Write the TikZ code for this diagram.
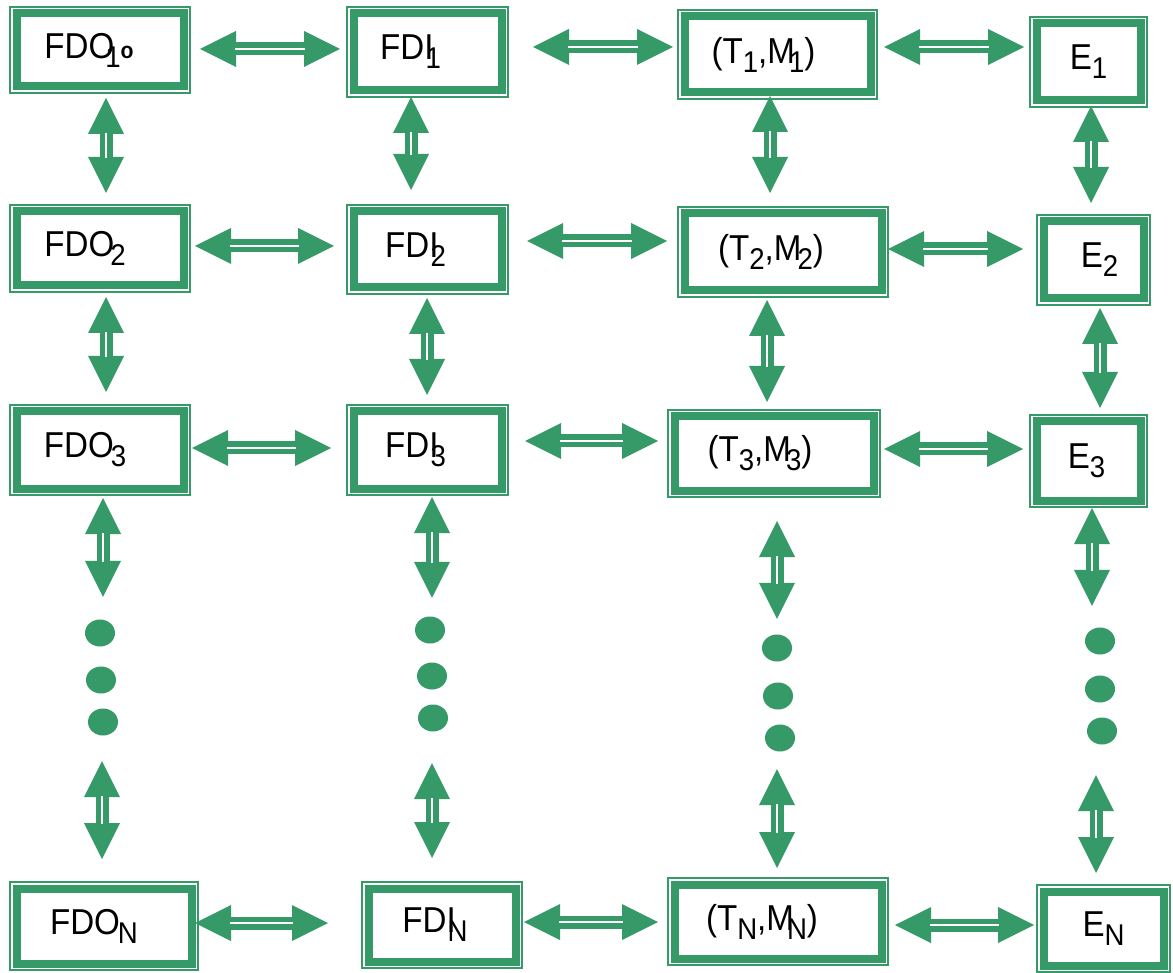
\documentclass[tikz,border=0pt]{standalone}
\usepackage{fontspec}
\newfontfamily\lab{Liberation Sans}[FakeStretch=0.92]
\usetikzlibrary{arrows.meta,calc,shapes.geometric}
\definecolor{gr}{RGB}{53,154,104}
\newcommand\subx[1]{\raisebox{-9pt}{\fontsize{30}{30}\selectfont #1}}
\newcommand\lbl[2]{\makebox[0pt]{#2\hspace*{#1}}}
\begin{document}
\begin{tikzpicture}[x=1pt,y=-1pt,
  box/.style={rectangle, draw=gr, line width=1.5pt, inner sep=0pt, outer sep=0pt,
    text=black, font=\lab\fontsize{36}{36}\selectfont,
    path picture={\draw[gr,line width=8pt]
      ([shift={(6.5pt,6.5pt)}]path picture bounding box.south west) rectangle
      ([shift={(-6.5pt,-6.5pt)}]path picture bounding box.north east);}},
  dot/.style={ellipse, fill=gr, minimum width=30pt, minimum height=27pt, inner sep=0pt},
  arr/.style={draw=gr, line width=13pt,
    {Triangle[length=36pt,width=36pt,line width=0pt]}-{Triangle[length=36pt,width=36pt,line width=0pt]},
    postaction={draw=white, line width=2pt, -, shorten <=35pt, shorten >=35pt}},
]
\useasboundingbox (0,0) rectangle (1173,973);
\fill[white] (0,0) rectangle (1173,973);

% row 1
\node[box, minimum width=180pt, minimum height=86pt] (fdo1) at (100,50)
  {\lbl{22pt}{FDO\kern-9pt\subx{1}{\bfseries\fontsize{23}{23}\selectfont o}}};
\node[box, minimum width=161pt, minimum height=90pt] (fdi1) at (427.5,52)
  {\lbl{34pt}{FDI\kern-8pt\subx{1}}};
\node[box, minimum width=199pt, minimum height=89pt] (tm1) at (777.5,54.5)
  {\lbl{28pt}{(T\subx{1},M\kern-6pt\subx{1})}};
\node[box, minimum width=117pt, minimum height=90pt] (e1) at (1088.5,62)
  {\lbl{0pt}{E\subx{1}}};
% row 2
\node[box, minimum width=180pt, minimum height=87pt] (fdo2) at (100,248.5)
  {\lbl{30pt}{FDO\kern-4pt\subx{2}}};
\node[box, minimum width=161pt, minimum height=89pt] (fdi2) at (427.5,249.5)
  {\lbl{24pt}{FDI\kern-8pt\subx{2}}};
\node[box, minimum width=210pt, minimum height=90pt] (tm2) at (783,252)
  {\lbl{24pt}{(T\subx{2},M\kern-4pt\subx{2})}};
\node[box, minimum width=113pt, minimum height=90pt] (e2) at (1093.5,260)
  {\lbl{-12pt}{E\subx{2}}};
% row 3
\node[box, minimum width=180pt, minimum height=90pt] (fdo3) at (100,450)
  {\lbl{30pt}{FDO\kern-3pt\subx{3}}};
\node[box, minimum width=161pt, minimum height=90pt] (fdi3) at (427.5,450)
  {\lbl{24pt}{FDI\kern-8pt\subx{3}}};
\node[box, minimum width=212pt, minimum height=87pt] (tm3) at (774,453.5)
  {\lbl{28pt}{(T\subx{3},M\kern-5pt\subx{3})}};
\node[box, minimum width=117pt, minimum height=92pt] (e3) at (1088.5,461)
  {\lbl{4pt}{E\subx{3}}};
% row N
\node[box, minimum width=188pt, minimum height=88pt] (fdoN) at (104,926)
  {\lbl{20pt}{FDO\kern-2pt\subx{N}}};
\node[box, minimum width=160pt, minimum height=86pt] (fdiN) at (442,925)
  {\lbl{14pt}{FDI\kern-8pt\subx{N}}};
\node[box, minimum width=220pt, minimum height=87pt] (tmN) at (778,921.5)
  {\lbl{32pt}{(T\subx{N},M\kern-7pt\subx{N})}};
\node[box, minimum width=133pt, minimum height=87pt] (eN) at (1103.5,928.5)
  {\lbl{0pt}{E\subx{N}}};

% dots
\node[dot] (d11) at (100,633) {};
\node[dot] (d12) at (101,680) {};
\node[dot] (d13) at (103,722) {};
\node[dot] (d21) at (430,630) {};
\node[dot] (d22) at (432,676) {};
\node[dot] (d23) at (433,718) {};
\node[dot] (d31) at (777,648) {};
\node[dot] (d32) at (778,696) {};
\node[dot] (d33) at (780,738) {};
\node[dot] (d41) at (1100,641) {};
\node[dot] (d42) at (1100,689) {};
\node[dot] (d43) at (1102,731) {};

% horizontal arrows
\draw[arr] ($(fdo1.east |- 0,49)+(10,0)$) -- ($(fdi1.west |- 0,49)-(7,0)$);
\draw[arr] ($(fdi1.east |- 0,47)+(25,0)$) -- ($(tm1.west |- 0,47)-(5,0)$);
\draw[arr] ($(tm1.east |- 0,47)+(7,0)$) -- ($(e1.west |- 0,47)-(6,0)$);
\draw[arr] ($(fdo2.east |- 0,246)+(5,0)$) -- ($(fdi2.west |- 0,246)-(13,0)$);
\draw[arr] ($(fdi2.east |- 0,241)+(19,0)$) -- ($(tm2.west |- 0,241)-(11,0)$);
\draw[arr] ($(tm2.east |- 0,249)+(0,0)$) -- ($(e2.west |- 0,249)-(14,0)$);
\draw[arr] ($(fdo3.east |- 0,448)+(2,0)$) -- ($(fdi3.west |- 0,448)-(16,0)$);
\draw[arr] ($(fdi3.east |- 0,441)+(17,0)$) -- ($(tm3.west |- 0,441)-(10,0)$);
\draw[arr] ($(tm3.east |- 0,449)+(4,0)$) -- ($(e3.west |- 0,449)-(7,0)$);
\draw[arr] ($(fdoN.east |- 0,923)+(-3,0)$) -- ($(fdiN.west |- 0,923)-(34,0)$);
\draw[arr] ($(fdiN.east |- 0,922)+(2,0)$) -- ($(tmN.west |- 0,922)-(10,0)$);
\draw[arr] ($(tmN.east |- 0,925)+(7,0)$) -- ($(eN.west |- 0,925)-(3,0)$);

% vertical arrows
\draw[arr] ($(fdo1.south -| 106,0)+(0,5)$) -- ($(fdo2.north -| 106,0)-(0,12)$);
\draw[arr] ($(fdo2.south -| 106,0)+(0,5)$) -- ($(fdo3.north -| 106,0)-(0,13)$);
\draw[arr] ($(fdo3.south -| 103,0)+(0,3)$) -- ($(d11.north -| 103,0)-(0,22.5)$);
\draw[arr] ($(d13.south -| 102,0)+(0,25.5)$) -- ($(fdoN.north -| 102,0)-(0,23)$);

\draw[arr] ($(fdi1.south -| 411,0)+(0,0)$) -- ($(fdi2.north -| 411,0)-(0,15)$);
\draw[arr] ($(fdi2.south -| 427,0)+(0,4)$) -- ($(fdi3.north -| 427,0)-(0,10)$);
\draw[arr] ($(fdi3.south -| 432,0)+(0,2)$) -- ($(d21.north -| 432,0)-(0,18.5)$);
\draw[arr] ($(d23.south -| 432,0)+(0,31.5)$) -- ($(fdiN.north -| 432,0)-(0,24)$);

\draw[arr] ($(tm1.south -| 770,0)+(0,-3)$) -- ($(tm2.north -| 770,0)-(0,14)$);
\draw[arr] ($(tm2.south -| 767,0)+(0,3)$) -- ($(tm3.north -| 767,0)-(0,8)$);
\draw[arr] ($(tm3.south -| 777,0)+(0,24)$) -- ($(d31.north -| 777,0)-(0,15.5)$);
\draw[arr] ($(d33.south -| 777,0)+(0,17.5)$) -- ($(tmN.north -| 777,0)-(0,10)$);

\draw[arr] ($(e1.south -| 1091,0)+(0,-1)$) -- ($(e2.north -| 1091,0)-(0,12)$);
\draw[arr] ($(e2.south -| 1100,0)+(0,3)$) -- ($(e3.north -| 1100,0)-(0,7)$);
\draw[arr] ($(e3.south -| 1092,0)+(0,1)$) -- ($(d41.north -| 1092,0)-(0,21.5)$);
\draw[arr] ($(d43.south -| 1096,0)+(0,30.5)$) -- ($(eN.north -| 1096,0)-(0,12)$);
\end{tikzpicture}
\end{document}
